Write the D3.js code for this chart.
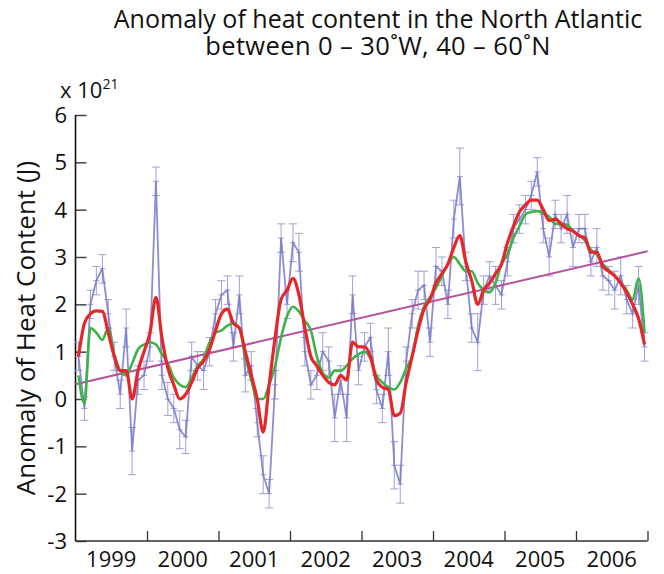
<!DOCTYPE html>
<html>
<head>
<meta charset="utf-8">
<script src="https://cdn.jsdelivr.net/npm/d3@7"></script>
<style>
  body { margin: 0; background: #fff; }
  text { font-family: "Open Sans", "Noto Sans", sans-serif; fill: #111; }
</style>
</head>
<body>
<script>
  // monthly values, Jan 1999 .. Dec 2006 (units of 10^21 J)
  var startYear = 1999;
  var yearLabels = ["1999", "2000", "2001", "2002", "2003", "2004", "2005", "2006"];
  var yTicks = [6, 5, 4, 3, 2, 1, 0, -1, -2, -3];

  var monthly = [
    0.9, -0.2, 2.0, 2.5, 2.75, 1.8, 0.9, 0.1, 1.5, -1.1, 0.4, 0.5,
    1.1, 4.6, 0.5, 0.0, -0.2, -0.65, -0.8, 0.9, 0.7, 0.6, 1.0, 1.8,
    2.2, 2.3, 1.1, 2.2, 0.5, 0.7, -0.5, -1.6, -2.0, 0.3, 3.4, 2.0,
    3.3, 3.1, 1.0, 0.3, 0.5, 1.0, 0.8, -0.4, 0.4, -0.4, 2.2, 0.6,
    1.1, 1.3, 0.2, -0.2, 1.0, -1.4, -1.8, 0.8, 1.8, 2.3, 2.4, 1.2,
    2.8, 2.7, 2.0, 3.8, 4.7, 2.8, 1.5, 1.2, 2.3, 2.6, 2.4, 2.2,
    2.9, 3.6, 3.8, 4.0, 4.3, 4.8, 3.6, 3.0, 3.9, 3.6, 3.9, 3.2,
    3.6, 3.6, 2.9, 3.2, 2.6, 2.5, 2.3, 2.6, 2.1, 1.8, 2.4, 1.1
  ];
  var monthlyErr = [
    0.3, 0.25, 0.3, 0.3, 0.3, 0.3, 0.3, 0.3, 0.4, 0.5, 0.3, 0.3,
    0.3, 0.3, 0.3, 0.35, 0.3, 0.4, 0.35, 0.3, 0.3, 0.4, 0.3, 0.3,
    0.3, 0.3, 0.3, 0.4, 0.35, 0.3, 0.3, 0.4, 0.3, 0.3, 0.3, 0.3,
    0.4, 0.4, 0.3, 0.3, 0.3, 0.4, 0.3, 0.5, 0.3, 0.5, 0.4, 0.3,
    0.3, 0.3, 0.3, 0.3, 0.5, 0.5, 0.4, 0.3, 0.3, 0.4, 0.3, 0.3,
    0.4, 0.3, 0.3, 0.4, 0.6, 0.3, 0.3, 0.6, 0.3, 0.3, 0.4, 0.3,
    0.3, 0.3, 0.3, 0.3, 0.3, 0.3, 0.3, 0.4, 0.3, 0.3, 0.4, 0.4,
    0.3, 0.3, 0.3, 0.4, 0.3, 0.3, 0.4, 0.4, 0.3, 0.3, 0.4, 0.3
  ];
  var smoothRed = [
    0.9, 1.6, 1.8, 1.86, 1.85, 1.4, 0.9, 0.6, 0.6, 0.0, 0.6, 1.0,
    1.4, 2.15, 1.3, 0.65, 0.3, 0.0, 0.1, 0.35, 0.65, 0.8, 1.05, 1.45,
    1.8, 1.9, 1.6, 1.5, 1.0, 0.5, 0.0, -0.7, 0.3, 1.3, 2.1, 2.3,
    2.55, 2.2, 1.5, 0.9, 0.7, 0.5, 0.35, 0.3, 0.5, 0.4, 1.2, 1.1,
    1.1, 0.9, 0.4, 0.25, 0.2, -0.35, -0.3, 0.35, 0.9, 1.45, 1.9, 2.1,
    2.45, 2.65, 2.85, 3.2, 3.45, 2.9, 2.5, 2.0, 2.3, 2.45, 2.65, 2.85,
    3.3, 3.65, 3.95, 4.1, 4.2, 4.2, 4.0, 3.77, 3.8, 3.7, 3.6, 3.55,
    3.45, 3.4, 3.1, 3.1, 2.8, 2.7, 2.6, 2.45, 2.25, 2.0, 1.7, 1.15
  ];
  var smoothGreen = [
    0.5, -0.1, 1.5, 1.4, 1.25, 1.5, 0.95, 0.6, 0.5, 0.75, 1.05, 1.15,
    1.2, 1.15, 0.95, 0.75, 0.45, 0.3, 0.25, 0.45, 0.7, 0.85, 1.2, 1.4,
    1.45, 1.55, 1.6, 1.5, 0.9, 0.4, 0.0, 0.0, 0.3, 0.7, 1.3, 1.75,
    1.95, 1.85, 1.65, 1.45, 0.9, 0.55, 0.45, 0.6, 0.6, 0.7, 0.85, 0.95,
    1.0, 0.85, 0.5, 0.35, 0.25, 0.2, 0.35, 0.65, 0.9, 1.55, 1.95, 2.15,
    2.35, 2.6, 2.85, 3.0, 2.85, 2.7, 2.7, 2.45, 2.3, 2.25, 2.45, 2.85,
    3.05, 3.4, 3.65, 3.9, 3.95, 3.97, 3.93, 3.85, 3.7, 3.7, 3.68, 3.55,
    3.45, 3.35, 3.15, 3.05, 2.85, 2.72, 2.6, 2.45, 2.3, 2.1, 2.55, 1.4
  ];
  var trendYears = [1999, 2007];
  var trendValues = [0.31, 3.12];

  var width = 664, height = 574;
  var svg = d3.select("body").append("svg").attr("width", width).attr("height", height);

  var x = d3.scaleLinear().domain([1999, 2007]).range([75.5, 647.5]);
  var y = d3.scaleLinear().domain([-3, 6]).range([541, 115]);

  var months = monthly.map(function (v, i) { return startYear + (i + 0.5) / 12; });

  // title
  svg.append("text").attr("x", 378).attr("y", 28).attr("text-anchor", "middle")
    .style("font-size", "25px").text("Anomaly of heat content in the North Atlantic");
  svg.append("text").attr("x", 378).attr("y", 55).attr("text-anchor", "middle")
    .style("font-size", "25.5px").style("letter-spacing", "0.4px")
    .text("between 0 – 30˚W, 40 – 60˚N");

  // exponent label
  var ex = svg.append("text").attr("x", 60).attr("y", 98).style("font-size", "22px");
  ex.append("tspan").text("x 10");
  ex.append("tspan").attr("dy", -9).style("font-size", "14px").text("21");

  // y axis title
  svg.append("text")
    .attr("transform", "translate(35," + y(1.5) + ") rotate(-90)")
    .attr("text-anchor", "middle")
    .style("font-size", "26px")
    .text("Anomaly of Heat Content (J)");

  // axes
  var yAxis = svg.append("g").attr("transform", "translate(" + x(1999) + ",0)")
    .call(d3.axisRight(y).tickValues(yTicks).tickSize(11).tickFormat(""));
  yAxis.select(".domain").remove();
  yAxis.selectAll("line").attr("stroke", "#444").attr("stroke-width", 1.5);
  svg.selectAll(".ylab").data(yTicks).enter().append("text")
    .attr("class", "ylab")
    .attr("x", 67).attr("y", function (d) { return y(d) + 8; })
    .attr("text-anchor", "end")
    .style("font-size", "22px")
    .text(function (d) { return d; });

  var xAxis = svg.append("g").attr("transform", "translate(0," + y(-3) + ")")
    .call(d3.axisTop(x).tickValues(d3.range(2000, 2008)).tickSize(10).tickFormat(""));
  xAxis.select(".domain").remove();
  xAxis.selectAll("line").attr("stroke", "#333").attr("stroke-width", 1.3);

  svg.selectAll(".xlab").data(yearLabels).enter().append("text")
    .attr("class", "xlab")
    .attr("x", function (d) { return x(+d + 0.5); })
    .attr("y", 567)
    .attr("text-anchor", "middle")
    .style("font-size", "22px")
    .text(function (d) { return d; });

  svg.append("line").attr("x1", x(1999)).attr("x2", x(1999))
    .attr("y1", y(6)).attr("y2", y(-3)).attr("stroke", "#111").attr("stroke-width", 1.6);
  svg.append("line").attr("x1", x(1999)).attr("x2", x(2007))
    .attr("y1", y(-3)).attr("y2", y(-3)).attr("stroke", "#333").attr("stroke-width", 1.6);

  // error bars
  var eb = svg.append("g").attr("stroke", "#a0a0d8").attr("stroke-width", 1).attr("fill", "none");
  monthly.forEach(function (v, i) {
    var cx = x(months[i]), lo = y(v - monthlyErr[i]), hi = y(v + monthlyErr[i]);
    eb.append("line").attr("x1", cx).attr("x2", cx).attr("y1", lo).attr("y2", hi);
    eb.append("line").attr("x1", cx - 4).attr("x2", cx + 4).attr("y1", lo).attr("y2", lo);
    eb.append("line").attr("x1", cx - 4).attr("x2", cx + 4).attr("y1", hi).attr("y2", hi);
    eb.append("line").attr("x1", cx - 3).attr("x2", cx + 3).attr("y1", y(v)).attr("y2", y(v));
  });

  var line = d3.line()
    .x(function (d, i) { return x(months[i]); })
    .y(function (d) { return y(d); });

  svg.append("path").datum(monthly).attr("d", line)
    .attr("fill", "none").attr("stroke", "#7070c6").attr("stroke-opacity", 0.8).attr("stroke-width", 1.8);

  svg.append("line")
    .attr("x1", x(trendYears[0])).attr("y1", y(trendValues[0]))
    .attr("x2", x(trendYears[1])).attr("y2", y(trendValues[1]))
    .attr("stroke", "#b5519f").attr("stroke-width", 2);

  var smooth = d3.line().curve(d3.curveMonotoneX)
    .x(function (d, i) { return x(months[i]); })
    .y(function (d) { return y(d); });

  svg.append("path").datum(smoothGreen).attr("d", smooth)
    .attr("fill", "none").attr("stroke", "#3db34a").attr("stroke-width", 2.6);
  svg.append("path").datum(smoothRed).attr("d", smooth)
    .attr("fill", "none").attr("stroke", "#e8262a").attr("stroke-width", 3.2);
</script>
</body>
</html>
